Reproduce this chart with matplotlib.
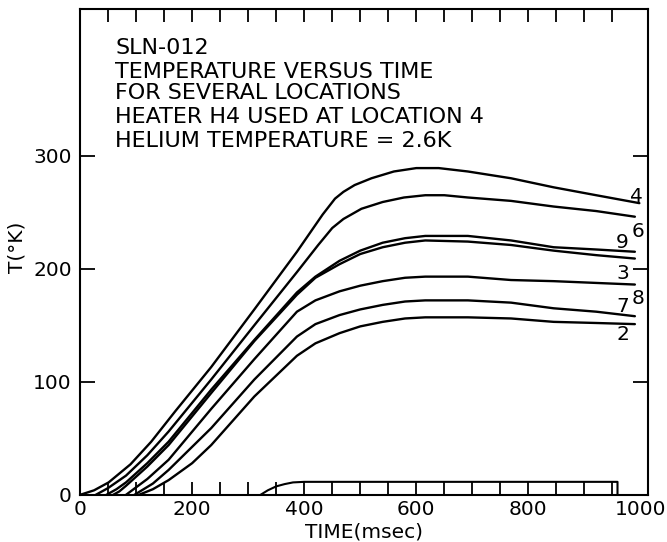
import matplotlib
matplotlib.use("Agg")
import matplotlib.pyplot as plt
from matplotlib.ticker import FixedLocator

# temperature traces at each thermometer location (time in msec, T in K)
loc4_t = [0, 25, 51, 90, 127, 170, 234, 311, 387, 433, 455, 470, 490, 520, 560, 600, 640, 692, 769, 845, 921, 998]
loc4_T = [0, 4, 11, 27, 47, 74, 113, 164, 215, 248, 262, 268, 274, 280, 286, 289, 289, 286, 280, 272, 265, 258]

loc6_t = [28, 50, 82, 120, 158, 234, 311, 387, 425, 450, 470, 502, 540, 578, 616, 650, 692, 769, 845, 921, 990]
loc6_T = [0, 6, 17, 35, 56, 102, 150, 197, 221, 236, 244, 253, 259, 263, 265, 265, 263, 260, 255, 251, 246]

loc9_t = [47, 65, 82, 120, 158, 234, 311, 387, 420, 463, 500, 540, 580, 616, 692, 769, 845, 921, 990]
loc9_T = [0, 5, 11, 28, 47, 93, 137, 179, 193, 207, 216, 223, 227, 229, 229, 225, 219, 217, 215]

loc3_t = [59, 70, 82, 120, 158, 234, 311, 387, 420, 463, 500, 540, 580, 616, 692, 769, 845, 921, 990]
loc3_T = [0, 3, 8, 25, 44, 90, 136, 177, 192, 204, 213, 219, 223, 225, 224, 221, 216, 212, 209]

loc8_t = [82, 120, 158, 234, 311, 387, 420, 463, 500, 540, 580, 616, 692, 769, 845, 990]
loc8_T = [0, 14, 31, 76, 120, 162, 172, 180, 185, 189, 192, 193, 193, 190, 189, 186]

loc7_t = [97, 130, 158, 234, 311, 387, 420, 463, 500, 540, 580, 616, 692, 769, 845, 921, 990]
loc7_T = [0, 10, 22, 59, 102, 140, 151, 159, 164, 168, 171, 172, 172, 170, 165, 162, 158]

loc2_t = [105, 130, 158, 200, 234, 311, 387, 420, 463, 500, 540, 580, 616, 692, 769, 845, 921, 990]
loc2_T = [0, 5, 13, 28, 44, 87, 123, 134, 143, 149, 153, 156, 157, 157, 156, 153, 152, 151]

# heater pulse trace along the time axis
heater_t = [322, 335, 350, 365, 380, 400, 959, 959]
heater_T = [0, 4, 7.5, 9.5, 11, 11.5, 11.5, 0]

curve_names = ["4", "6", "9", "3", "8", "7", "2"]
name_t = [993, 995, 968, 968, 995, 968, 968]
name_T = [264, 233, 223, 196, 174, 167, 142]

note_lines = [
    "SLN-012",
    "TEMPERATURE VERSUS TIME",
    "FOR SEVERAL LOCATIONS",
    "HEATER H4 USED AT LOCATION 4",
    "HELIUM TEMPERATURE = 2.6K",
]

plt.rcParams["font.family"] = "DejaVu Sans"

fig = plt.figure(figsize=(6.67, 5.42), dpi=100)
ax = fig.add_axes([0.120, 0.087, 0.852, 0.897])

traces = [(loc4_t, loc4_T), (loc6_t, loc6_T), (loc9_t, loc9_T), (loc3_t, loc3_T),
          (loc8_t, loc8_T), (loc7_t, loc7_T), (loc2_t, loc2_T)]
for t, T in traces:
    ax.plot(t, T, color="black", lw=1.7, solid_capstyle="round", solid_joinstyle="round")

ax.plot(heater_t, heater_T, color="black", lw=1.5)

for name, t, T in zip(curve_names, name_t, name_T):
    ax.text(t, T, name, fontsize=14.5, ha="center", va="center")

ax.set_xlim(0, 1014)
ax.set_ylim(0, 430)

# labels every 200 msec, tick marks every 50 msec on top and bottom
ax.xaxis.remove_overlapping_locs = False
ax.xaxis.set_major_locator(FixedLocator([0, 200, 400, 600, 800, 1000]))
ax.xaxis.set_minor_locator(FixedLocator(list(range(50, 1000, 50))))
ax.set_yticks([0, 100, 200, 300])

ax.tick_params(axis="x", which="major", length=0, pad=4, labelsize=14.5)
ax.tick_params(axis="x", which="minor", direction="in", length=9.5, width=1.3,
               top=True, bottom=True)
ax.tick_params(axis="y", which="major", direction="in", length=11, width=1.3,
               left=True, right=True, pad=6, labelsize=14.5)

for sp in ax.spines.values():
    sp.set_linewidth(1.5)

ax.set_xlabel("TIME(msec)", fontsize=14.5, labelpad=2)
ax.set_ylabel("T(°K)", fontsize=14.5)
ax.yaxis.set_label_coords(-0.095, 0.51)

note_y = [0.920, 0.869, 0.826, 0.778, 0.728]
for line, y in zip(note_lines, note_y):
    ax.text(0.062, y, line, transform=ax.transAxes, fontsize=16, ha="left", va="center")

fig.savefig("out.png", dpi=100)
